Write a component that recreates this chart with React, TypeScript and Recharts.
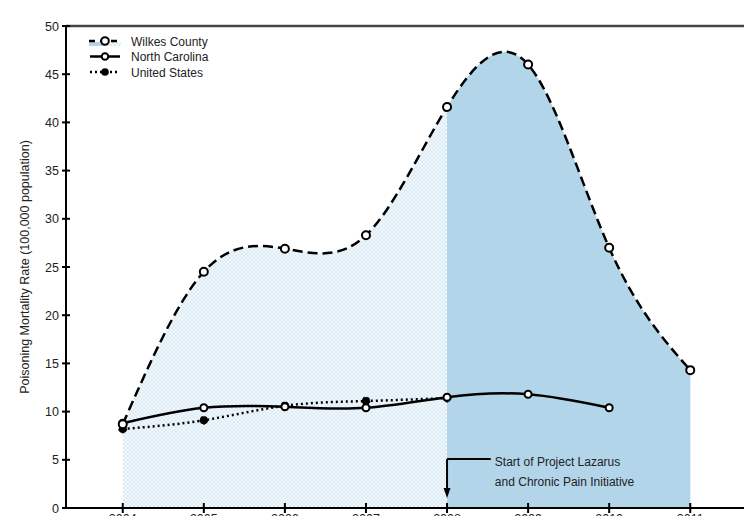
import React from 'react';
import {
  ComposedChart,
  Line,
  Area,
  XAxis,
  YAxis,
  ReferenceLine,
  ReferenceDot,
  Legend,
} from 'recharts';

const years = [2004, 2005, 2006, 2007, 2008, 2009, 2010, 2011];
const wilkesCounty = [8.7, 24.5, 26.9, 28.3, 41.6, 46.0, 27.0, 14.3];
const northCarolina = [8.8, 10.4, 10.5, 10.4, 11.5, 11.8, 10.4, null];
const unitedStates = [8.2, 9.1, 10.6, 11.1, 11.4, null, null, null];
const yTicks = [0, 5, 10, 15, 20, 25, 30, 35, 40, 45, 50];
const legendLabels = ['Wilkes County', 'North Carolina', 'United States'];
const noteLines = ['Start of Project Lazarus', 'and Chronic Pain Initiative'];
const projectStart = 2008;

const data = years.map((year, i) => ({
  year,
  wilkes: wilkesCounty[i],
  nc: northCarolina[i],
  us: unitedStates[i],
}));

const FONT = '"Liberation Sans", Arial, Helvetica, sans-serif';
const BLUE = '#b3d5ea';
// share of the Wilkes area that lies before the project start
const splitAt = (projectStart - years[0]) / (years[years.length - 1] - years[0]);

const XTick = (props: any) => {
  const { x, y, payload } = props;
  return (
    <g>
      <line x1={x} x2={x} y1={y - 5} y2={y + 5} stroke="#000" strokeWidth={2} />
      <text x={x} y={y + 15} textAnchor="middle" fontSize={12.5} fontFamily={FONT} fill="#222">
        {payload.value}
      </text>
    </g>
  );
};

const YTick = (props: any) => {
  const { x, y, payload } = props;
  return (
    <g>
      <line x1={x - 4} x2={x + 4} y1={y} y2={y} stroke="#000" strokeWidth={2} />
      <text x={x - 7} y={y + 4.5} textAnchor="end" fontSize={12.5} fontFamily={FONT} fill="#222">
        {payload.value}
      </text>
    </g>
  );
};

const LegendContent = () => (
  <svg width={140} height={48}>
    {/* Wilkes County */}
    <rect x={0} y={7} width={16} height={4} fill={BLUE} />
    <rect x={16} y={7} width={16} height={4} fill="url(#hatch)" />
    <line x1={0} x2={32} y1={6} y2={6} stroke="#000" strokeWidth={2.5} strokeDasharray="6 5" />
    <circle cx={16} cy={6} r={3.8} fill="#fff" stroke="#000" strokeWidth={2} />
    {/* North Carolina */}
    <line x1={1} x2={31} y1={21.5} y2={21.5} stroke="#000" strokeWidth={2.5} />
    <circle cx={16} cy={21.5} r={3.3} fill="#fff" stroke="#000" strokeWidth={2} />
    {/* United States */}
    <line x1={1} x2={31} y1={37} y2={37} stroke="#000" strokeWidth={2.5} strokeDasharray="2 3" />
    <circle cx={16} cy={37} r={3.8} fill="#000" />
    {legendLabels.map((label, i) => (
      <text key={label} x={42} y={10.5 + i * 15.5} fontSize={12} fontFamily={FONT} fill="#222">
        {label}
      </text>
    ))}
  </svg>
);

const ArrowHead = (props: any) => {
  const { cx, cy } = props;
  return <path d={`M${cx - 3.5},${cy - 10} L${cx},${cy} L${cx + 3.5},${cy - 10} Z`} fill="#000" />;
};

const NoteText = (props: any) => {
  const { cx, cy } = props;
  return (
    <text x={cx} y={cy} fontSize={12} fontFamily={FONT} fill="#222">
      {noteLines.map((line, i) => (
        <tspan key={line} x={cx} dy={i === 0 ? 0 : 20}>
          {line}
        </tspan>
      ))}
    </text>
  );
};

const App = () => (
  <div style={{ position: 'absolute', left: 0, top: 0, width: 744, height: 516, overflow: 'hidden' }}>
    <ComposedChart
      width={760}
      height={540}
      data={data}
      margin={{ top: 26, right: 13, bottom: 2, left: 0 }}
    >
      <defs>
        <pattern id="hatch" width={4} height={4} patternUnits="userSpaceOnUse">
          <rect width={4} height={4} fill="#f3f9fd" />
          <path d="M0,0 L4,4 M4,0 L0,4" stroke="#d3e7f4" strokeWidth={0.8} />
        </pattern>
        <linearGradient id="afterStart" x1="0" x2="1" y1="0" y2="0">
          <stop offset={splitAt} stopColor={BLUE} stopOpacity={0} />
          <stop offset={splitAt} stopColor={BLUE} stopOpacity={1} />
        </linearGradient>
      </defs>
      <XAxis
        dataKey="year"
        type="number"
        domain={[2003.3, 2011.7]}
        ticks={years}
        height={30}
        tickSize={0}
        tickMargin={0}
        tick={<XTick />}
        axisLine={{ stroke: '#000', strokeWidth: 2 }}
        allowDataOverflow
      />
      <YAxis
        type="number"
        domain={[0, 50]}
        ticks={yTicks}
        width={66}
        tickSize={0}
        tickMargin={0}
        tick={<YTick />}
        axisLine={{ stroke: '#000', strokeWidth: 2 }}
        label={{
          content: (p: any) => (
            <text
              transform={`translate(${p.viewBox.x + 25},${p.viewBox.y + p.viewBox.height / 2}) rotate(-90)`}
              textAnchor="middle"
              dominantBaseline="central"
              fontSize={12.5}
              fontFamily={FONT}
              fill="#222"
            >
              Poisoning Mortality Rate (100,000 population)
            </text>
          ),
        }}
      />
      <ReferenceLine y={50} stroke="#444" strokeWidth={2.5} />
      <Area
        type="natural"
        dataKey="wilkes"
        stroke="none"
        fill="url(#hatch)"
        fillOpacity={1}
        isAnimationActive={false}
        legendType="none"
      />
      <Area
        type="natural"
        dataKey="wilkes"
        stroke="none"
        fill="url(#afterStart)"
        fillOpacity={1}
        isAnimationActive={false}
        legendType="none"
      />
      <ReferenceLine
        segment={[{ x: projectStart, y: 5.08 }, { x: projectStart, y: 1.6 }]}
        stroke="#000"
        strokeWidth={2}
      />
      <ReferenceLine
        segment={[{ x: projectStart, y: 5.08 }, { x: 2008.54, y: 5.08 }]}
        stroke="#000"
        strokeWidth={2}
      />
      <ReferenceDot x={projectStart} y={1.05} r={0} shape={<ArrowHead />} />
      <ReferenceDot x={2008.59} y={4.4} r={0} shape={<NoteText />} />
      <Line
        type="natural"
        dataKey="us"
        stroke="#000"
        strokeWidth={2.5}
        strokeDasharray="2 3"
        dot={{ r: 4, fill: '#000', stroke: '#000', strokeWidth: 1 }}
        isAnimationActive={false}
      />
      <Line
        type="natural"
        dataKey="nc"
        stroke="#000"
        strokeWidth={2.5}
        dot={{ r: 3.5, fill: '#fff', stroke: '#000', strokeWidth: 2 }}
        isAnimationActive={false}
      />
      <Line
        type="natural"
        dataKey="wilkes"
        stroke="#000"
        strokeWidth={2.5}
        strokeDasharray="10 5"
        dot={{ r: 4, fill: '#fff', stroke: '#000', strokeWidth: 2, strokeDasharray: '' }}
        isAnimationActive={false}
      />
      <Legend
        layout="vertical"
        align="center"
        verticalAlign="middle"
        content={<LegendContent />}
        wrapperStyle={{ left: 89, top: 35, width: 140, height: 48 }}
      />
    </ComposedChart>
  </div>
);

export default App;
